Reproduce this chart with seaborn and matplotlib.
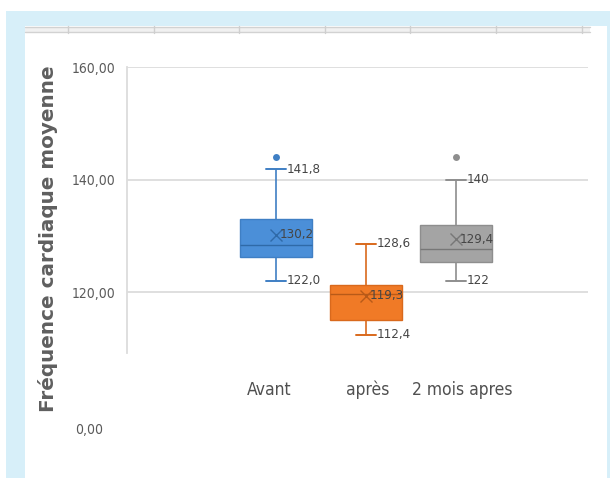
import numpy as np
import pandas as pd
import seaborn as sns
import matplotlib
matplotlib.use("Agg")
import matplotlib.pyplot as plt
import matplotlib.transforms as mtransforms
from matplotlib.patches import Rectangle
from matplotlib.lines import Line2D

# --- data -----------------------------------------------------------------
groups = ["Avant", "après", "2 mois apres"]
whisker_low = [122.0, 112.4, 122.0]
q1 = [126.3, 115.1, 125.4]
medians = [128.3, 119.6, 127.7]
q3 = [132.9, 121.3, 132.0]
whisker_high = [141.8, 128.6, 140.0]
means = [130.2, 119.3, 129.4]
label_decimals = [1, 1, 0]
outlier_groups = ["Avant", "2 mois apres"]
outlier_values = [144.0, 144.0]
y_ticks = [120, 140, 160]
y_tick_labels = ["120,00", "140,00", "160,00"]
y_title = "Fréquence cardiaque moyenne"

# --- styles ---------------------------------------------------------------
fill_colors = ["#4b8fd8", "#f07a26", "#a4a4a4"]
edge_colors = ["#3f7fc4", "#d9691c", "#8e8e8e"]
mean_colors = ["#2f6aa8", "#b85a18", "#777777"]
text_color = "#454545"
grid_color = "#dcdcdc"

W, H = 610, 478
sns.set_theme(style="white")
plt.rcParams["font.family"] = ["DejaVu Sans"]
plt.rcParams["font.stretch"] = "condensed"

fig = plt.figure(figsize=(W / 100, H / 100), dpi=100)
fig.patch.set_facecolor("white")


def fx(px):
    return px / W


def fy(py):
    return 1 - py / H


# page frame: light blue band with a white sheet on top
bg = dict(transform=fig.transFigure, edgecolor="none", zorder=-5)
fig.patches.append(Rectangle((fx(6), 0), fx(W) - fx(6), fy(10.5), facecolor="#d7eff9", **bg))
fig.patches.append(Rectangle((fx(24.5), 0), fx(607) - fx(24.5), fy(25.5),
                             facecolor="white", **bg))
# spreadsheet cell borders along the top of the sheet
fig.patches.append(Rectangle((fx(24.5), fy(32)), fx(590) - fx(24.5), fy(26.5) - fy(32),
                             facecolor="#f1f1f1", **bg))
for yy in (26.5, 32):
    fig.lines.append(Line2D([fx(24.5), fx(590)], [fy(yy), fy(yy)], transform=fig.transFigure,
                            color="#d2d2d2", lw=1.0, zorder=-4))
for xx in (68, 154, 239, 325, 410, 496, 582):
    fig.lines.append(Line2D([fx(xx), fx(xx)], [fy(25.5), fy(33)], transform=fig.transFigure,
                            color="#cfcfcf", lw=1.0, zorder=-4))

# plot area
ax_left, ax_right, ax_top, ax_bottom = 127, 588, 67, 353
ax = fig.add_axes([fx(ax_left), fy(ax_bottom), fx(ax_right) - fx(ax_left),
                   fy(ax_top) - fy(ax_bottom)])
ax.set_facecolor("none")

# five-number summaries as long-form table
summary = pd.DataFrame({
    "groupe": np.repeat(groups, 5),
    "valeur": np.ravel(np.column_stack([whisker_low, q1, medians, q3, whisker_high])),
})
palette = dict(zip(groups, fill_colors))

sns.boxplot(data=summary, x="groupe", y="valeur", hue="groupe", order=groups,
            hue_order=groups, palette=palette, whis=(0, 100), width=0.79,
            linewidth=1.0, showfliers=False, legend=False, saturation=1, ax=ax)

# per-group edge colouring and short caps
half_cap = 10 / 90
for i, cont in enumerate(ax.containers):
    ec = edge_colors[i]
    for b in cont.boxes:
        b.set_edgecolor(ec)
        b.set_facecolor(fill_colors[i])
    for ln in list(cont.whiskers):
        ln.set_color(ec)
        ln.set_linewidth(1.2)
    for ln in list(cont.caps):
        ln.set_color(ec)
        ln.set_linewidth(1.4)
        c = np.mean(ln.get_xdata())
        ln.set_xdata([c - half_cap, c + half_cap])
    for ln in list(cont.medians):
        ln.set_color(mean_colors[i])
        ln.set_linewidth(1.0)

# outliers
sns.stripplot(x=outlier_groups, y=outlier_values, order=groups, hue=outlier_groups,
              hue_order=groups, palette=dict(zip(groups, edge_colors)), jitter=False,
              size=5, linewidth=0, legend=False, ax=ax)

# means
sns.pointplot(x=groups, y=means, order=groups, hue=groups, hue_order=groups,
              palette=dict(zip(groups, mean_colors)), markers="x", linestyles="none",
              errorbar=None, legend=False, markersize=8, markeredgewidth=1.0, ax=ax)


def fmt(v, d):
    return f"{v:.{d}f}".replace(".", ",")


lab_kw = dict(textcoords="offset pixels", ha="left", va="center", fontsize=9.5,
              color=text_color, zorder=6)
for i in range(len(groups)):
    ax.annotate(fmt(whisker_high[i], label_decimals[i]), xy=(i, whisker_high[i]),
                xytext=(11, 0), **lab_kw)
    ax.annotate(fmt(whisker_low[i], label_decimals[i]), xy=(i, whisker_low[i]),
                xytext=(11, 0), **lab_kw)
    ax.annotate(fmt(means[i], 1), xy=(i, means[i]), xytext=(4, 0), **lab_kw)

# axes styling
unit = 90.0
ax.set_xlim(-(276 - ax_left) / unit, 2 + (ax_right - 456) / unit)
ax.set_ylim(160 - (ax_bottom - ax_top) / 5.625, 160)
ax.set_yticks(y_ticks)
ax.set_yticklabels(y_tick_labels)
ax.yaxis.grid(True, color=grid_color, lw=1.3)
ax.set_axisbelow(True)
ax.set_xlabel("")
ax.set_ylabel("")
for s in ("top", "right", "bottom"):
    ax.spines[s].set_visible(False)
ax.spines["left"].set_color(grid_color)
ax.spines["left"].set_linewidth(1.3)
ax.tick_params(axis="y", length=0, pad=8.6, labelsize=10, labelcolor="#5a5a5a")
ax.tick_params(axis="x", length=0, pad=20, labelsize=12.5, labelcolor="#505050")

for lbl, dx in zip(ax.get_xticklabels(), [-7, 2, 6]):
    lbl.set_transform(lbl.get_transform() + mtransforms.Affine2D().translate(dx, 0))

# the broken-axis origin label
fig.text(fx(75), fy(430), "0,00", ha="left", va="center", fontsize=10, color="#5a5a5a")

fig.text(fx(48), fy(238.5), y_title, rotation=90, ha="center", va="center",
         fontsize=14.4, fontweight="bold", color="#5f5f5f", family=["DejaVu Sans"],
         fontstretch="normal")

fig.savefig("out.png", dpi=100)
